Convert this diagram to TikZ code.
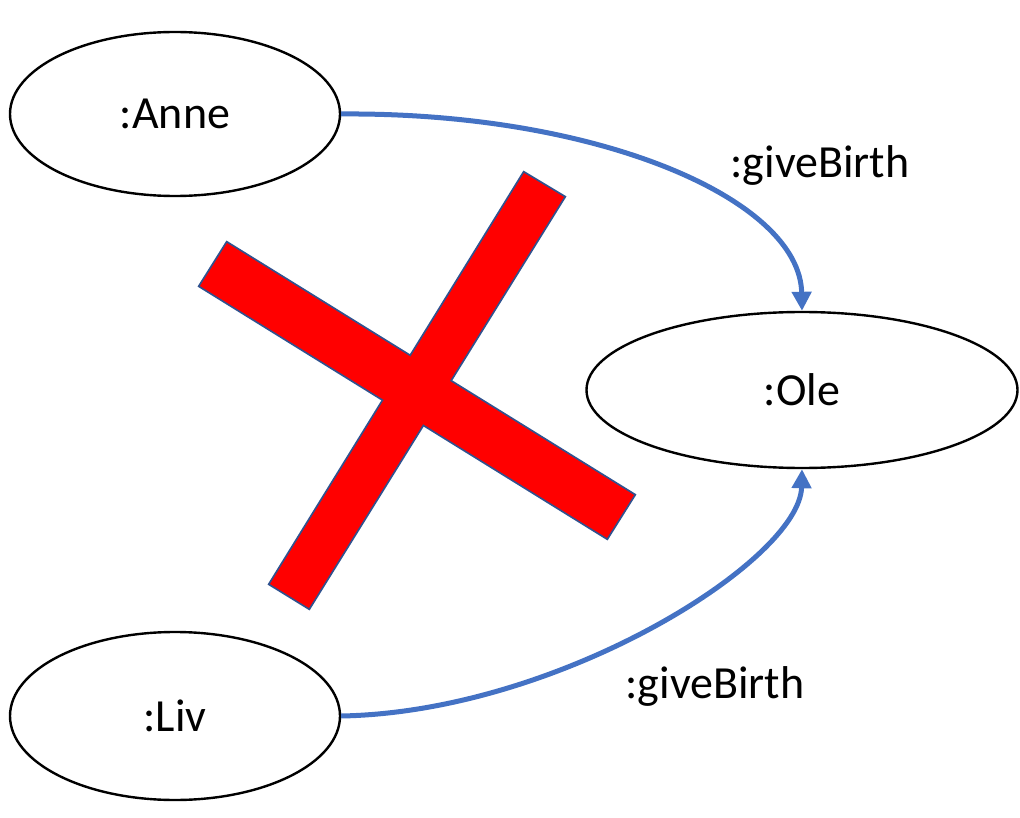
\documentclass[tikz,border=0pt]{standalone}
\usepackage{fontspec}
\setmainfont{Carlito}
\usetikzlibrary{shapes.geometric, arrows.meta}
\definecolor{arcblue}{HTML}{4472C4}
\definecolor{crossline}{HTML}{2F528F}

\begin{document}
\begin{tikzpicture}[x=1pt,y=-1pt,
  entity/.style={draw=black, line width=2.4pt, ellipse, inner sep=0pt, font=\fontsize{46}{50}\selectfont},
  lbl/.style={inner sep=0pt, font=\fontsize{46}{50}\selectfont},
  birth/.style={draw=arcblue, line width=5pt, -{Triangle[length=19pt,width=19pt]}}]
\useasboundingbox (0,0) rectangle (1020,818);

\node[entity, minimum width=330pt, minimum height=164pt] (Anne) at (175,114) {:Anne};
\node[entity, minimum width=330pt, minimum height=168pt] (Liv) at (175,716) {:Liv};
\node[entity, minimum width=431pt, minimum height=156pt] (Ole) at (802,390) {:Ole};

\node[lbl] (topBirth) at (820,165) {:giveBirth};
\node[lbl] (lowBirth) at (715,686) {:giveBirth};

\draw[birth] (Anne.east) .. controls (600,112) and (800,200) .. (Ole.north);
\draw[birth] (Liv.east) .. controls (560,712) and (800,560) .. (Ole.south);

% the cross
\draw[crossline, line width=3.6pt] (227,243) -- (200,286) -- (607,538) -- (634,495) -- cycle;
\draw[crossline, line width=3.6pt] (524,173) -- (564,197) -- (309,608) -- (270,584) -- cycle;
\fill[red] (227,243) -- (200,286) -- (607,538) -- (634,495) -- cycle;
\fill[red] (524,173) -- (564,197) -- (309,608) -- (270,584) -- cycle;
\end{tikzpicture}
\end{document}
